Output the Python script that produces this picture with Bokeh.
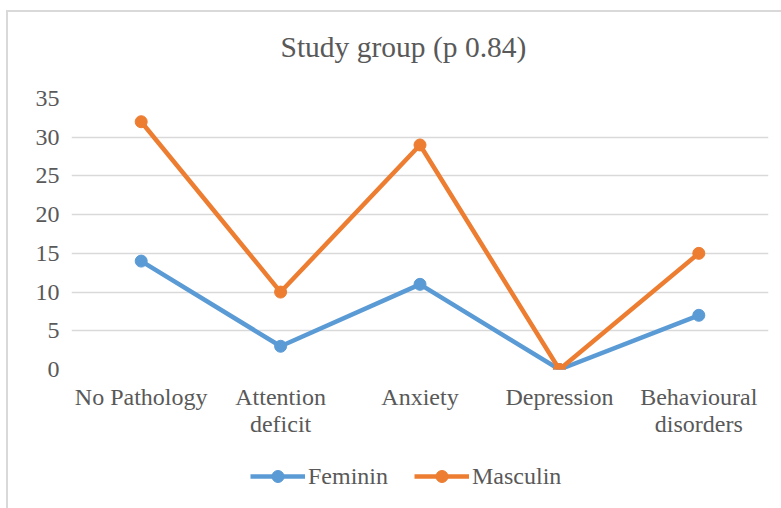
from bokeh.plotting import figure
from bokeh.layouts import column
from bokeh.models import Legend, LegendItem, FactorRange, Range1d, FixedTicker, CategoricalAxis
from bokeh.embed import file_html
from bokeh.resources import INLINE

categories = ["No Pathology", "Attention deficit", "Anxiety", "Depression", "Behavioural disorders"]
label_line1 = ["No Pathology", "Attention", "Anxiety", "Depression", "Behavioural"]
label_line2 = [" ", "deficit", "  ", "   ", "disorders"]
feminin = [14, 3, 11, 0, 7]
masculin = [32, 10, 29, 0, 15]
y_ticks = [0, 5, 10, 15, 20, 25, 30, 35]
series_names = ["Feminin", "Masculin"]
chart_title = "Study group (p 0.84)"

FONT = "Liberation Serif"
TXT = "#595959"
BLUE = "#5B9BD5"
ORANGE = "#ED7D31"
FS = "24px"

# title strip
p0 = figure(width=773, height=69, min_border=0, x_axis_location=None, y_axis_location=None,
            output_backend="svg", toolbar_location=None, title=chart_title)
p0.outline_line_color = None
p0.grid.grid_line_color = None
p0.title.align = "left"
p0.title.offset = 209
p0.title.text_font = FONT
p0.title.text_font_size = "29.5px"
p0.title.text_font_style = "normal"
p0.title.text_color = TXT
p0.title.standoff = 33

# main chart
p1 = figure(x_range=FactorRange(*categories, range_padding=0), y_range=Range1d(0, 35),
            frame_width=697, frame_height=271, x_axis_location=None,
            min_border_left=63, min_border_right=13, min_border_top=17, min_border_bottom=90,
            output_backend="svg", toolbar_location=None)
p1.extra_x_ranges = {"l1": FactorRange(*label_line1, range_padding=0),
                     "l2": FactorRange(*label_line2, range_padding=0)}
p1.outline_line_color = None
p1.xgrid.grid_line_color = None
p1.ygrid.grid_line_color = "#D9D9D9"
p1.ygrid.grid_line_width = 1.3

ax1 = CategoricalAxis(x_range_name="l1", major_label_standoff=14)
ax2 = CategoricalAxis(x_range_name="l2", major_label_standoff=-2)
p1.add_layout(ax1, "below")
p1.add_layout(ax2, "below")

p1.yaxis.ticker = FixedTicker(ticks=y_ticks)
for ax in (ax1, ax2, p1.yaxis[0]):
    ax.axis_line_color = None
    ax.major_tick_line_color = None
    ax.minor_tick_line_color = None
    ax.major_tick_out = 0
    ax.major_label_text_font = FONT
    ax.major_label_text_font_size = FS
    ax.major_label_text_color = TXT
p1.yaxis.major_label_standoff = 12

p1.line(categories, feminin, line_color=BLUE, line_width=4.5)
p1.scatter(categories, feminin, size=12, fill_color=BLUE, line_color=BLUE)
p1.line(categories, masculin, line_color=ORANGE, line_width=4.5)
p1.scatter(categories, masculin, size=12, fill_color=ORANGE, line_color=ORANGE)

# legend strip: same series drawn out of view, used only for the legend swatches
p2 = figure(width=773, height=49, min_border=0, x_axis_location=None, y_axis_location=None,
            x_range=FactorRange(*categories, range_padding=0), y_range=Range1d(-200, -199),
            output_backend="svg", toolbar_location=None)
p2.outline_line_color = None
p2.grid.grid_line_color = None
items = []
for name, vals, col in zip(series_names, [feminin, masculin], [BLUE, ORANGE]):
    r1 = p2.line(categories, vals, line_color=col, line_width=4.5)
    r2 = p2.scatter(categories, vals, size=12, fill_color=col, line_color=col)
    items.append(LegendItem(label=name, renderers=[r1, r2]))
legend = Legend(items=items, orientation="horizontal", location=(179, 17),
                label_text_font=FONT, label_text_font_size=FS, label_text_color=TXT,
                glyph_width=55, glyph_height=30, label_standoff=3, spacing=26, margin=0, padding=0,
                border_line_color=None, background_fill_alpha=0)
p2.add_layout(legend, "center")

p = column(p0, p1, p2, spacing=0,
           styles={"border-left": "2px solid #D9D9D9", "border-top": "2px solid #D9D9D9",
                   "margin-left": "6px", "margin-top": "10px"})

open("out.html", "w").write(file_html(p, INLINE))
